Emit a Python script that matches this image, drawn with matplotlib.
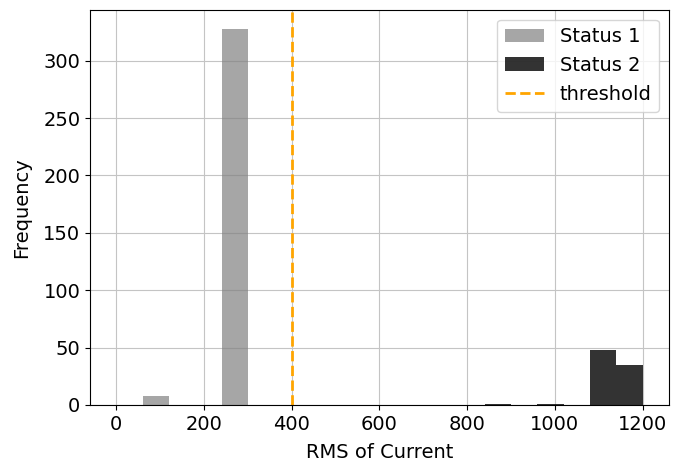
import numpy as np
import matplotlib
matplotlib.use("Agg")
import matplotlib.pyplot as plt

# Histogram bin edges (width 60 from 0 to 1200)
bin_edges = np.arange(0, 1260, 60)

# Counts per bin for each status
status1_counts = [0, 8, 0, 0, 328, 0, 0, 0, 0, 0,
                  0, 0, 0, 0, 0, 0, 0, 0, 0, 0]
status2_counts = [0, 0, 0, 0, 0, 0, 0, 0, 0, 0,
                  0, 0, 0, 0, 1, 0, 1, 0, 48, 35]

threshold = 400

plt.rcParams['font.family'] = ['DejaVu Sans']
fig = plt.figure(figsize=(6.77, 4.67), dpi=100)
ax = fig.add_axes([0.133, 0.133, 0.855, 0.846])

centers = (bin_edges[:-1] + bin_edges[1:]) / 2
ax.hist(centers, bins=bin_edges, weights=status1_counts,
        color='gray', alpha=0.7, label='Status 1')
ax.hist(centers, bins=bin_edges, weights=status2_counts,
        color='black', alpha=0.8, label='Status 2')
ax.axvline(threshold, color='orange', linestyle='--', linewidth=2,
           label='threshold')

ax.grid(True, color='#c4c4c4', linewidth=0.8)
ax.set_axisbelow(True)
ax.set_xlabel('RMS of Current', fontsize=14, labelpad=7)
ax.set_ylabel('Frequency', fontsize=14, labelpad=9)
ax.tick_params(labelsize=14)
ax.legend(fontsize=14, loc='upper right')

fig.savefig('out.png', dpi=100)
